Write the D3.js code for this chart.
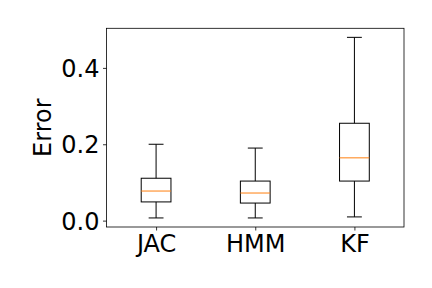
<!DOCTYPE html>
<html>
<head>
<meta charset="utf-8">
<script src="https://cdn.jsdelivr.net/npm/d3@7"></script>
<style>
  body { margin: 0; background: #fff; }
  text { font-family: "DejaVu Sans", sans-serif; fill: #000; }
</style>
</head>
<body>
<div id="chart"></div>
<script>
var categories = ["JAC", "HMM", "KF"];
var lowWhisker = [0.007, 0.007, 0.0097];
var q1 = [0.049, 0.046, 0.1036];
var medians = [0.0775, 0.0723, 0.1644];
var q3 = [0.111, 0.1036, 0.255];
var highWhisker = [0.200, 0.190, 0.480];
var yTicks = [0.0, 0.2, 0.4];

var width = 432, height = 288;
var plotLeft = 106.5, plotRight = 404, plotTop = 28.3, plotBottom = 227;

var svg = d3.select("#chart").append("svg")
  .attr("width", width).attr("height", height);

var x = d3.scaleLinear().domain([0.5, 3.5]).range([plotLeft, plotRight]);
var y = d3.scaleLinear().domain([-0.0167, 0.5037]).range([plotBottom, plotTop]);

var boxW = x(1.15) - x(0.85);
var capW = boxW / 2;

var boxes = categories.map(function(c, i) {
  return { pos: i + 1, lo: lowWhisker[i], q1: q1[i], med: medians[i], q3: q3[i], hi: highWhisker[i] };
});

var g = svg.selectAll("g.box").data(boxes).enter().append("g").attr("class", "box");

// whiskers
g.append("line")
  .attr("x1", d => x(d.pos)).attr("x2", d => x(d.pos))
  .attr("y1", d => y(d.q3)).attr("y2", d => y(d.hi))
  .attr("stroke", "#000").attr("stroke-width", 1);
g.append("line")
  .attr("x1", d => x(d.pos)).attr("x2", d => x(d.pos))
  .attr("y1", d => y(d.q1)).attr("y2", d => y(d.lo))
  .attr("stroke", "#000").attr("stroke-width", 1);
// caps
g.append("line")
  .attr("x1", d => x(d.pos) - capW / 2).attr("x2", d => x(d.pos) + capW / 2)
  .attr("y1", d => y(d.hi)).attr("y2", d => y(d.hi))
  .attr("stroke", "#000").attr("stroke-width", 1);
g.append("line")
  .attr("x1", d => x(d.pos) - capW / 2).attr("x2", d => x(d.pos) + capW / 2)
  .attr("y1", d => y(d.lo)).attr("y2", d => y(d.lo))
  .attr("stroke", "#000").attr("stroke-width", 1);
// box
g.append("rect")
  .attr("x", d => x(d.pos) - boxW / 2).attr("width", boxW)
  .attr("y", d => y(d.q3)).attr("height", d => y(d.q1) - y(d.q3))
  .attr("fill", "none").attr("stroke", "#000").attr("stroke-width", 1);
// median
g.append("line")
  .attr("x1", d => x(d.pos) - boxW / 2).attr("x2", d => x(d.pos) + boxW / 2)
  .attr("y1", d => y(d.med)).attr("y2", d => y(d.med))
  .attr("stroke", "#ff7f0e").attr("stroke-width", 1);

// axes
var yAxis = d3.axisLeft(y).tickValues(yTicks).tickFormat(d3.format(".1f"))
  .tickSize(3.5).tickPadding(3.5);
var xAxis = d3.axisBottom(x).tickValues([1, 2, 3]).tickFormat((d, i) => categories[i])
  .tickSize(3.5).tickPadding(3.5);

var ya = svg.append("g").attr("transform", "translate(" + plotLeft + ",0)").call(yAxis);
var xa = svg.append("g").attr("transform", "translate(0," + plotBottom + ")").call(xAxis);
[ya, xa].forEach(function(a) {
  a.select(".domain").remove();
  a.selectAll("line").attr("stroke", "#000").attr("stroke-width", 0.8);
  a.selectAll("text").style("font-size", "24px").attr("fill", "#000");
});
ya.selectAll("text").attr("dy", "0.35em");
xa.selectAll("text").attr("dy", "0.73em");

// frame
svg.append("rect")
  .attr("x", plotLeft).attr("y", plotTop)
  .attr("width", plotRight - plotLeft).attr("height", plotBottom - plotTop)
  .attr("fill", "none").attr("stroke", "#000").attr("stroke-width", 0.8);

svg.append("text")
  .attr("transform", "translate(51," + ((plotTop + plotBottom) / 2) + ") rotate(-90)")
  .attr("text-anchor", "middle")
  .style("font-size", "24px")
  .text("Error");
</script>
</body>
</html>
